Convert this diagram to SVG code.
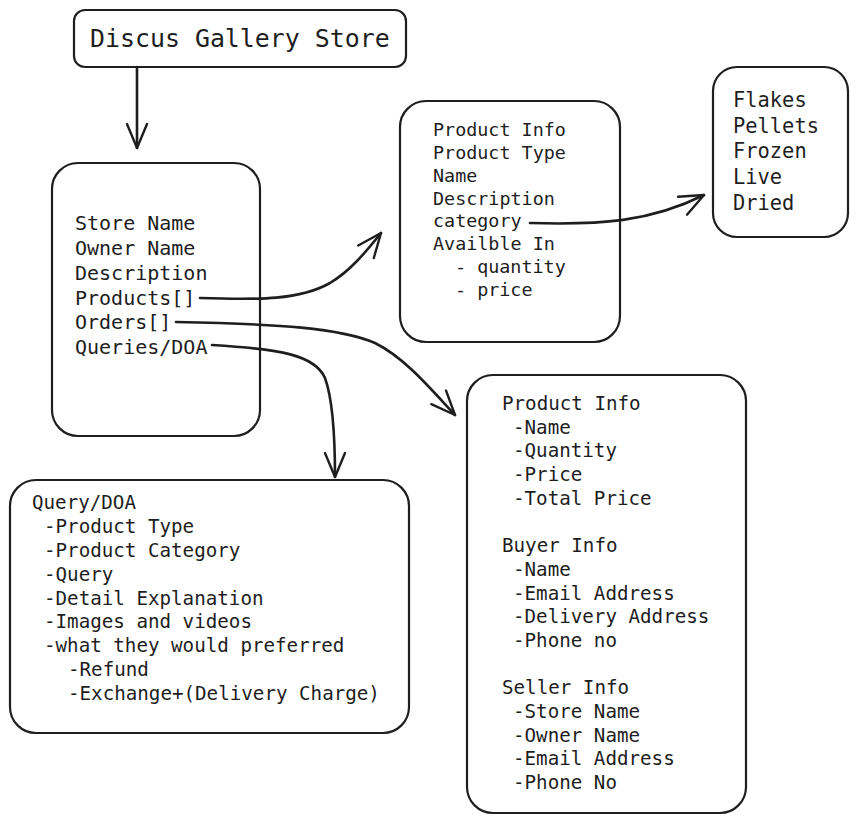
<svg xmlns="http://www.w3.org/2000/svg" width="860" height="822" viewBox="0 0 860 822">
<style>
.box{fill:#ffffff;stroke:#1e1e1e;stroke-width:2.2}
.t{font-family:"DejaVu Sans Mono","Liberation Mono",monospace;fill:#1e1e1e}
.c{fill:none;stroke:#1e1e1e;stroke-width:2.6;stroke-linecap:round}
</style>
<defs>
<marker id="ah" markerUnits="userSpaceOnUse" markerWidth="32" markerHeight="28" refX="27" refY="14" orient="auto" overflow="visible">
<path d="M3,4 L27,14 L3,24" fill="none" stroke="#1e1e1e" stroke-width="2.4" stroke-linecap="round" stroke-linejoin="round"/>
</marker>
</defs>
<rect width="860" height="822" fill="#ffffff"/>

<g id="title">
<rect class="box" x="74" y="10" width="332" height="57" rx="11"/>
<text class="t" x="90" y="47" font-size="24.9">Discus Gallery Store</text>
</g>

<g id="store">
<rect class="box" x="52" y="163" width="208" height="273" rx="26"/>
<text class="t" font-size="20">
<tspan x="75" y="230">Store Name</tspan>
<tspan x="75" y="255">Owner Name</tspan>
<tspan x="75" y="280">Description</tspan>
<tspan x="75" y="305">Products[]</tspan>
<tspan x="75" y="329">Orders[]</tspan>
<tspan x="75" y="354">Queries/DOA</tspan>
</text>
</g>

<g id="product">
<rect class="box" x="400" y="101" width="220" height="241" rx="26"/>
<text class="t" font-size="18.4">
<tspan x="433" y="136">Product Info</tspan>
<tspan x="433" y="159">Product Type</tspan>
<tspan x="433" y="182">Name</tspan>
<tspan x="433" y="205">Description</tspan>
<tspan x="433" y="227">category</tspan>
<tspan x="433" y="250">Availble In</tspan>
<tspan x="455" y="273">- quantity</tspan>
<tspan x="455" y="296">- price</tspan>
</text>
</g>

<g id="categories">
<rect class="box" x="713" y="67" width="135" height="170" rx="24"/>
<text class="t" font-size="20.4">
<tspan x="733" y="107">Flakes</tspan>
<tspan x="733" y="133">Pellets</tspan>
<tspan x="733" y="158">Frozen</tspan>
<tspan x="733" y="184">Live</tspan>
<tspan x="733" y="210">Dried</tspan>
</text>
</g>

<g id="orders">
<rect class="box" x="467" y="375" width="279" height="438" rx="26"/>
<text class="t" font-size="19.2">
<tspan x="502" y="410">Product Info</tspan>
<tspan x="513" y="434">-Name</tspan>
<tspan x="513" y="457">-Quantity</tspan>
<tspan x="513" y="481">-Price</tspan>
<tspan x="513" y="505">-Total Price</tspan>
<tspan x="502" y="552">Buyer Info</tspan>
<tspan x="513" y="576">-Name</tspan>
<tspan x="513" y="600">-Email Address</tspan>
<tspan x="513" y="623">-Delivery Address</tspan>
<tspan x="513" y="647">-Phone no</tspan>
<tspan x="502" y="694">Seller Info</tspan>
<tspan x="513" y="718">-Store Name</tspan>
<tspan x="513" y="742">-Owner Name</tspan>
<tspan x="513" y="765">-Email Address</tspan>
<tspan x="513" y="789">-Phone No</tspan>
</text>
</g>

<g id="query">
<rect class="box" x="10" y="480" width="399" height="253" rx="26"/>
<text class="t" font-size="19.2">
<tspan x="32" y="509">Query/DOA</tspan>
<tspan x="44" y="533">-Product Type</tspan>
<tspan x="44" y="557">-Product Category</tspan>
<tspan x="44" y="581">-Query</tspan>
<tspan x="44" y="605">-Detail Explanation</tspan>
<tspan x="44" y="628">-Images and videos</tspan>
<tspan x="44" y="652">-what they would preferred</tspan>
<tspan x="68" y="676">-Refund</tspan>
<tspan x="68" y="700">-Exchange+(Delivery Charge)</tspan>
</text>
</g>

<g id="connectors">
<path class="c" d="M137 67 L137 148" marker-end="url(#ah)"/>
<path class="c" d="M200 298 C260 300 300 300 330 283 C350 271 365 253 381 233" marker-end="url(#ah)"/>
<path class="c" d="M176 322 C280 324 340 328 375 343 C405 358 430 388 455 415" marker-end="url(#ah)"/>
<path class="c" d="M212 345 C280 349 315 355 325 378 C333 400 335 440 335 477" marker-end="url(#ah)"/>
<path class="c" d="M530 223 C600 225 650 222 704 195" marker-end="url(#ah)"/>
</g>
</svg>
